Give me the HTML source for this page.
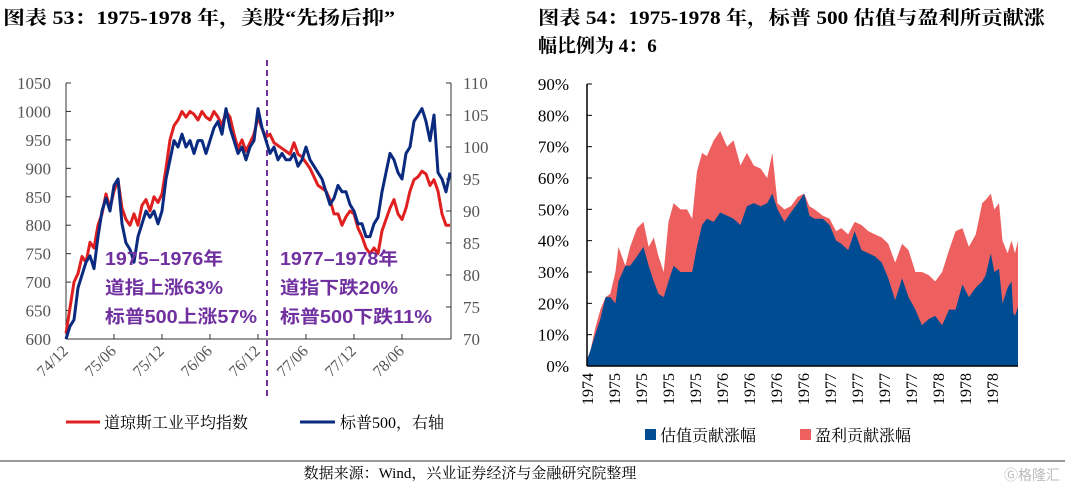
<!DOCTYPE html>
<html><head><meta charset="utf-8"><style>
body{margin:0;width:1065px;height:489px;background:#fff;overflow:hidden;font-family:"Liberation Serif","Noto Serif CJK SC",serif;}
svg{position:absolute;left:0;top:0}
</style></head><body>
<svg id="s" width="1065" height="489">
<text x="3" y="24" font-size="19" font-weight="bold" fill="#000" textLength="392" lengthAdjust="spacingAndGlyphs">图表 53：1975-1978 年，美股“先扬后抑”</text>
<text x="538" y="24" font-size="19" font-weight="bold" fill="#000" textLength="507" lengthAdjust="spacingAndGlyphs">图表 54：1975-1978 年，标普 500 估值与盈利所贡献涨</text>
<text x="538" y="52" font-size="19" font-weight="bold" fill="#000">幅比例为 4：6</text>
<g id="left"></g><g id="right"></g>
<line x1="0" y1="461" x2="1065" y2="461" stroke="#333" stroke-width="1"/>
<text x="470" y="478" font-size="15" text-anchor="middle" fill="#000">数据来源：Wind，兴业证券经济与金融研究院整理</text>
<text x="1060" y="480" font-size="14" text-anchor="end" fill="#bbb" font-family="Liberation Sans,Noto Sans CJK SC,sans-serif">Ⓖ格隆汇</text>
</svg>
<script>
// ---- Left chart data (half-monthly from 1974/12) ----
const months=[0,0.5,1,1.5,2,2.5,3,3.5,4,4.5,5,5.5,6,6.5,7,7.5,8,8.5,9,9.5,10,10.5,11,11.5,12,12.5,13,13.5,14,14.5,15,15.5,16,16.5,17,17.5,18,18.5,19,19.5,20,20.5,21,21.5,22,22.5,23,23.5,24,24.5,25,25.5,26,26.5,27,27.5,28,28.5,29,29.5,30,30.5,31,31.5,32,32.5,33,33.5,34,34.5,35,35.5,36,36.5,37,37.5,38,38.5,39,39.5,40,40.5,41,41.5,42,42.5,43,43.5,44,44.5,45,45.5,46,46.5,47,47.5,48];
const dow=[610,655,700,715,745,735,770,760,800,820,855,830,860,880,830,810,800,820,800,835,845,825,850,840,855,900,950,975,985,1000,990,1000,995,985,1000,990,985,1000,990,975,1000,990,960,935,950,930,945,960,990,970,955,960,945,940,935,930,925,945,925,920,910,900,885,870,865,860,845,820,820,800,815,825,820,795,780,760,750,760,750,790,810,830,845,820,810,830,860,880,885,895,890,870,880,860,820,800,800];
const spx=[70,72,73,78,80,82,83,81,86,90,92,90,94,95,88,85,84,82,86,88,90,89,90,88,90,95,98,101,100,102,100,101,99,101,101,99,101,103,104,102,106,103,101,99,100,98,100,101,106,103,101,99,100,98,99,98,98,99,97,98,100,98,97,96,95,93,91,92,94,93,93,91,90,88,88,86,86,88,89,93,96,99,98,96,95,99,100,104,105,106,104,101,105,96,95,93,96];
const xTickLabels=["74/12","75/06","75/12","76/06","76/12","77/06","77/12","78/06"];
const xTickMonths=[0,6,12,18,24,30,36,42];
const leftTicks=[600,650,700,750,800,850,900,950,1000,1050];
const rightTicks=[70,75,80,85,90,95,100,105,110];
// ---- Right chart data ----
const timeIdx=[0,0.8,1.9,3.1,4.3,5.4,6.6,7.3,8.9,10,11.6,13.1,14.3,15.5,16.6,17.8,18.9,20.1,21.7,23.2,24.4,25.5,26.7,27.8,29.4,30.9,32.5,34,35.6,37.1,38.7,40.3,41.8,43,44.2,45.8,47.3,48.9,50.4,51.6,52.8,54.7,56.3,57.8,59,60.6,62.1,63.7,65.3,66.8,68.4,69.9,71.5,73.1,74.6,76.2,77.7,79.3,80.8,82.4,84,85.5,87.1,88.6,90.2,91.7,92.5,93.7,94.5,95.6,96.4,97.6,98.5,98.9,99.3,100];
const valuation=[2,5,10,15,22,22,20,27,32,32,35,38,32,27,23,22,27,32,30,30,30,38,45,47,46,49,48,47,45,51,52,51,52,55,50,46,49,52,55,48,47,47,45,40,39,37,43,37,36,35,33,28,21,28,22,18,13,15,16,13,18,18,26,22,25,27,29,36,30,31,20,25,27,17,16,19];
const total=[2,5,12,18,22,23,30,38,32,38,44,46,38,41,35,30,46,52,50,50,47,62,68,67,72,75,70,72,64,68,64,63,60,68,52,50,51,54,55,51,50,48,47,43,44,42,46,45,43,42,41,39,33,39,37,30,30,29,27,30,37,43,44,38,42,52,53,55,50,52,40,36,40,38,36,40];
const rTicks=[0,10,20,30,40,50,60,70,80,90];
const rXLabels=["1974","1975","1975","1975","1975","1976","1976","1976","1976","1977","1977","1977","1977","1978","1978","1978"];

const NS="http://www.w3.org/2000/svg";
function el(p,t,a,txt){const e=document.createElementNS(NS,t);for(const k in a)e.setAttribute(k,a[k]);if(txt!==undefined)e.textContent=txt;p.appendChild(e);return e;}
const L=document.getElementById('left'),R=document.getElementById('right');
const lx=m=>66+m*8, ly=v=>339-(v-600)/450*256, ry=v=>339-(v-70)/40*256;
let e;
e=el(L,'line',{x1:66,y1:83,x2:66,y2:339,stroke:'#333','stroke-width':1});

e=el(L,'line',{x1:451,y1:83,x2:451,y2:339,stroke:'#333','stroke-width':1});

e=el(L,'line',{x1:66,y1:339,x2:451,y2:339,stroke:'#333','stroke-width':1});

leftTicks.forEach(v=>{el(L,'line',{x1:66,y1:ly(v),x2:71,y2:ly(v),stroke:'#333'});
 e=el(L,'text',{x:51,y:ly(v)+6,'font-size':17,'text-anchor':'end',fill:'#555'},v);
 });
rightTicks.forEach(v=>{el(L,'line',{x1:446,y1:ry(v),x2:451,y2:ry(v),stroke:'#333'});
 e=el(L,'text',{x:463,y:ry(v)+6,'font-size':17,fill:'#555'},v);
 });
xTickMonths.forEach((m,i)=>{const x=lx(m);el(L,'line',{x1:x,y1:334,x2:x,y2:339,stroke:'#333'});
 e=el(L,'text',{x:x+3,y:352,'font-size':16,'text-anchor':'end',fill:'#555',transform:`rotate(-45 ${x+3} 352)`},xTickLabels[i]);
 });
e=el(L,'line',{x1:267,y1:60,x2:267,y2:400,stroke:'#7030A0','stroke-width':2,'stroke-dasharray':'6,4'});

e=el(L,'polyline',{points:months.map((m,i)=>lx(m)+','+ly(dow[i])).join(' '),fill:'none',stroke:'#E02020','stroke-width':3,'stroke-linejoin':'round'});

e=el(L,'polyline',{points:months.map((m,i)=>lx(m)+','+ry(spx[i])).join(' '),fill:'none',stroke:'#0A2A80','stroke-width':3,'stroke-linejoin':'round'});

const ann=[["1975–1976年","道指上涨63%","标普500上涨57%"],["1977–1978年","道指下跌20%","标普500下跌11%"]];
const annW=[[118,118,152],[118,118,152]];
[105,280].forEach((x,j)=>ann[j].forEach((t,i)=>{e=el(L,'text',{x:x,y:265+i*29,'font-size':18,'font-weight':'bold',fill:'#7030A0','font-family':'Liberation Sans,Noto Sans CJK SC,sans-serif',textLength:annW[j][i],lengthAdjust:'spacingAndGlyphs'},t);
 }));
e=el(L,'line',{x1:66,y1:422,x2:100,y2:422,stroke:'#E02020','stroke-width':3});

e=el(L,'text',{x:104,y:428,'font-size':16,fill:'#000'},'道琼斯工业平均指数');

e=el(L,'line',{x1:300,y1:422,x2:335,y2:422,stroke:'#0A2A80','stroke-width':3});

e=el(L,'text',{x:340,y:428,'font-size':16,fill:'#000'},'标普500，右轴');

const x0=587,x1=1018,rx=t=>x0+t/100*(x1-x0),rY=v=>366-v/90*282;
function area(arr){return 'M'+rx(0)+','+rY(0)+' '+timeIdx.map((t,i)=>'L'+rx(t)+','+rY(arr[i])).join(' ')+' L'+rx(100)+','+rY(0)+'Z';}
e=el(R,'path',{d:area(total),fill:'#EE6060'});

e=el(R,'path',{d:area(valuation),fill:'#004C93'});

e=el(R,'line',{x1:x0,y1:84,x2:x0,y2:366,stroke:'#000','stroke-width':1.5});

e=el(R,'line',{x1:x0,y1:366,x2:x1,y2:366,stroke:'#000','stroke-width':1.5});

rTicks.forEach(v=>{el(R,'line',{x1:x0,y1:rY(v),x2:x0+5,y2:rY(v),stroke:'#000'});
 e=el(R,'text',{x:569,y:rY(v)+6,'font-size':17,'text-anchor':'end',fill:'#000'},v+'%');
 });
rXLabels.forEach((t,i)=>{const x=x0+i*27+6;
 e=el(R,'text',{x:x,y:373,'font-size':16,'text-anchor':'end',fill:'#000',transform:`rotate(-90 ${x} 373)`},t);
 });
e=el(R,'rect',{x:645,y:429,width:11,height:11,fill:'#004C93'});

e=el(R,'text',{x:660,y:441,'font-size':16,fill:'#000'},'估值贡献涨幅');

e=el(R,'rect',{x:800,y:429,width:11,height:11,fill:'#EE6060'});

e=el(R,'text',{x:815,y:441,'font-size':16,fill:'#000'},'盈利贡献涨幅');

</script>
</body></html>
